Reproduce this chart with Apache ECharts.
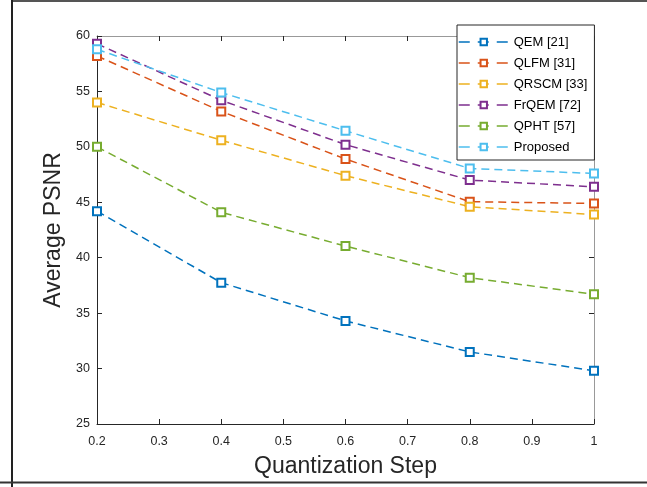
<!DOCTYPE html>
<html>
<head>
<meta charset="utf-8">
<script src="https://cdn.jsdelivr.net/npm/echarts@6/dist/echarts.min.js"></script>
<style>
  html, body { margin: 0; padding: 0; background: #fff; }
  #chart { width: 647px; height: 487px; }
</style>
</head>
<body>
<div id="chart"></div>
<script>
const steps = [0.2, 0.4, 0.6, 0.8, 1.0]
const xTicks = [0.2, 0.3, 0.4, 0.5, 0.6, 0.7, 0.8, 0.9, 1]
const yTicks = [25, 30, 35, 40, 45, 50, 55, 60]

const names = ['QEM [21]', 'QLFM [31]', 'QRSCM [33]', 'FrQEM [72]', 'QPHT [57]', 'Proposed']
const colors = ['#0072BD', '#D95319', '#EDB120', '#7E2F8E', '#77AC30', '#4DBEEE']

const qem = [44.2, 37.75, 34.3, 31.5, 29.8]
const qlfm = [58.2, 53.2, 48.9, 45.05, 44.9]
const qrscm = [54.0, 50.6, 47.4, 44.6, 43.9]
const frqem = [59.3, 54.2, 50.2, 47.0, 46.4]
const qpht = [50.0, 44.1, 41.05, 38.2, 36.7]
const proposed = [58.8, 54.9, 51.45, 48.05, 47.6]

const values = [qem, qlfm, qrscm, frqem, qpht, proposed]

const font = 'Liberation Sans, Arial, sans-serif'

const chart = echarts.init(document.getElementById('chart'))

const series = names.map((name, i) => ({
  name: name,
  type: 'line',
  data: steps.map((s, j) => [s, values[i][j]]),
  symbol: 'emptyRect',
  symbolSize: 8,
  showAllSymbol: true,
  animation: false,
  lineStyle: { color: colors[i], width: 1.5, type: [8, 5] },
  itemStyle: { color: colors[i], borderColor: colors[i], borderWidth: 1.5 }
}))

const baseX = {
  type: 'value',
  min: 0.2,
  max: 1,
  interval: 0.1,
  splitLine: { show: false },
  axisTick: { inside: true, length: 5, lineStyle: { color: '#262626' } }
}
const baseY = {
  type: 'value',
  min: 25,
  max: 60,
  interval: 5,
  splitLine: { show: false },
  axisTick: { inside: true, length: 5, lineStyle: { color: '#262626' } }
}

const option = {
  backgroundColor: '#fff',
  animation: false,
  grid: { left: 97, top: 36, right: 53, bottom: 63 },
  legend: {
    orient: 'vertical',
    left: 457,
    top: 25,
    padding: [10, 7, 6, 1],
    itemWidth: 50,
    itemHeight: 8,
    itemGap: 7,
    backgroundColor: '#fff',
    borderColor: '#262626',
    borderWidth: 1,
    borderRadius: 0,
    lineStyle: { type: [11, 8], width: 1.5 },
    textStyle: { fontFamily: font, fontSize: 13, color: '#000', lineHeight: 14 },
    data: names
  },
  xAxis: [
    Object.assign({}, baseX, {
      position: 'bottom',
      axisLine: { lineStyle: { color: '#262626', width: 1 } },
      axisLabel: {
        color: '#262626', fontFamily: font, fontSize: 12.5, margin: 11,
        formatter: v => {
          const r = Math.round(v * 10) / 10
          return xTicks.indexOf(r) >= 0 ? String(r) : ''
        }
      },
      name: 'Quantization Step',
      nameLocation: 'middle',
      nameGap: 31,
      nameTextStyle: { color: '#262626', fontFamily: font, fontSize: 23 }
    }),
    Object.assign({}, baseX, {
      position: 'top',
      axisLine: { lineStyle: { color: '#999', width: 1 } },
      axisLabel: { show: false }
    })
  ],
  yAxis: [
    Object.assign({}, baseY, {
      position: 'left',
      axisLine: { lineStyle: { color: '#262626', width: 1 } },
      axisLabel: {
        color: '#262626', fontFamily: font, fontSize: 12.5, margin: 7,
        formatter: v => yTicks.indexOf(v) >= 0 ? String(v) : ''
      },
      name: 'Average PSNR',
      nameLocation: 'middle',
      nameGap: 31,
      nameTextStyle: { color: '#262626', fontFamily: font, fontSize: 23 }
    }),
    Object.assign({}, baseY, {
      position: 'right',
      axisLine: { lineStyle: { color: '#999', width: 1 } },
      axisLabel: { show: false }
    })
  ],
  graphic: [
    { type: 'line', shape: { x1: 12, y1: 1, x2: 647, y2: 1 }, style: { stroke: '#555', lineWidth: 2 }, silent: true },
    { type: 'line', shape: { x1: 12, y1: 0, x2: 12, y2: 487 }, style: { stroke: '#222', lineWidth: 2 }, silent: true },
    { type: 'line', shape: { x1: 0, y1: 482.5, x2: 647, y2: 482.5 }, style: { stroke: '#333', lineWidth: 2 }, silent: true }
  ],
  series: series
}

chart.setOption(option)
</script>
</body>
</html>
